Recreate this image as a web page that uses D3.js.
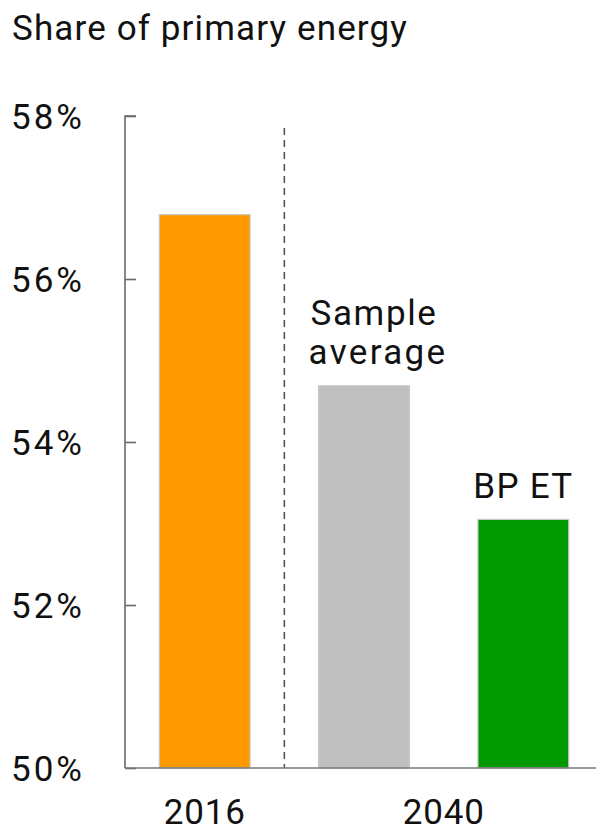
<!DOCTYPE html>
<html><head><meta charset="utf-8">
<script src="https://cdn.jsdelivr.net/npm/d3@7"></script>
<style>body{margin:0;background:#fff}svg{display:block}text{font-family:Roboto,"Liberation Sans",Arial,sans-serif;font-weight:400;fill:#111}</style>
</head><body>
<script>
const categories = ["2016", "Sample average", "BP ET"];
const values = [56.79, 54.69, 53.05];
const colors = ["#FF9900", "#BFBFBF", "#009900"];
const yTicks = [50, 52, 54, 56, 58];
const groupLabels = ["2016", "2040"];
const title = "Share of primary energy";

const W = 596, H = 833;
const svg = d3.select("body").append("svg").attr("width", W).attr("height", H);

const x = d3.scaleBand().domain(categories).range([125, 603]).paddingInner(0.43).paddingOuter(0.215);
const y = d3.scaleLinear().domain([50, 58]).range([768, 116]);

const fs = 35;
svg.append("text").attr("class", "ttl").attr("x", 12).attr("y", 40).attr("font-size", fs).text(title);

// y axis
const yAxis = d3.axisRight(y).tickValues(yTicks).tickSize(11).tickFormat("");
const ga = svg.append("g").attr("transform", "translate(125,0)").call(yAxis);
ga.select(".domain").attr("stroke", "#6a6a6a").attr("stroke-width", 1.6).attr("d", `M11,${y(58)}H0V${y(50)}`);
ga.selectAll(".tick line").attr("stroke", "#6a6a6a").attr("stroke-width", 1.6);

const ylabs = svg.selectAll(".ylab").data(yTicks).join("text").attr("class", "ylab")
  .attr("x", 85).attr("y", d => y(d)).attr("dy", "0.36em").attr("text-anchor", "end")
  .attr("font-size", fs).text(d => d + "%");

// bars
svg.selectAll(".bar").data(categories).join("rect").attr("class", "bar")
  .attr("x", d => x(d)).attr("width", x.bandwidth())
  .attr("y", (d, i) => y(values[i])).attr("height", (d, i) => y(50) - y(values[i]))
  .attr("fill", (d, i) => colors[i]).attr("stroke", "#c8c8c8").attr("stroke-width", 1.2);

// divider
const divX = (x(categories[0]) + x.bandwidth() + x(categories[1])) / 2;
svg.append("line").attr("x1", divX).attr("x2", divX).attr("y1", 128).attr("y2", 768)
  .attr("stroke", "#555").attr("stroke-width", 1.6).attr("stroke-dasharray", "7,5");

// bottom axis
svg.append("line").attr("x1", 125).attr("x2", W).attr("y1", 768).attr("y2", 768)
  .attr("stroke", "#777").attr("stroke-width", 1.6);

// bar labels
const c1 = x(categories[1]) + x.bandwidth() / 2;
const lab1 = svg.append("text").attr("text-anchor", "middle").attr("font-size", fs);
lab1.append("tspan").attr("x", c1 + 10).attr("y", 325).text("Sample");
lab1.append("tspan").attr("x", c1 + 14).attr("y", 364).text("average");
svg.append("text").attr("class", "bpet").attr("x", x(categories[2]) + x.bandwidth() / 2).attr("y", 498).attr("text-anchor", "middle")
  .attr("font-size", fs).text(categories[2]);

// group labels
const g1 = x(categories[0]) + x.bandwidth() / 2;
const g2 = (x(categories[1]) + x(categories[2]) + x.bandwidth()) / 2;
svg.selectAll(".glab").data(groupLabels).join("text").attr("class", "glab")
  .attr("x", (d, i) => i === 0 ? g1 : g2).attr("y", 824).attr("text-anchor", "middle")
  .attr("font-size", fs).text(d => d);

// fit widths to reference extents
function fit(sel, w) {
  sel.each(function () {
    const n = this.getComputedTextLength();
    const chars = this.textContent.length;
    if (chars > 1) d3.select(this).attr("letter-spacing", (w - n) / chars);
  });
}
fit(svg.select(".ttl"), 396);
fit(ylabs, 74);
fit(lab1.selectAll("tspan").filter((d, i) => i === 0), 127);
fit(lab1.selectAll("tspan").filter((d, i) => i === 1), 139);
fit(svg.select(".bpet"), 100);
fit(svg.selectAll(".glab"), 82);
</script>
</body></html>
